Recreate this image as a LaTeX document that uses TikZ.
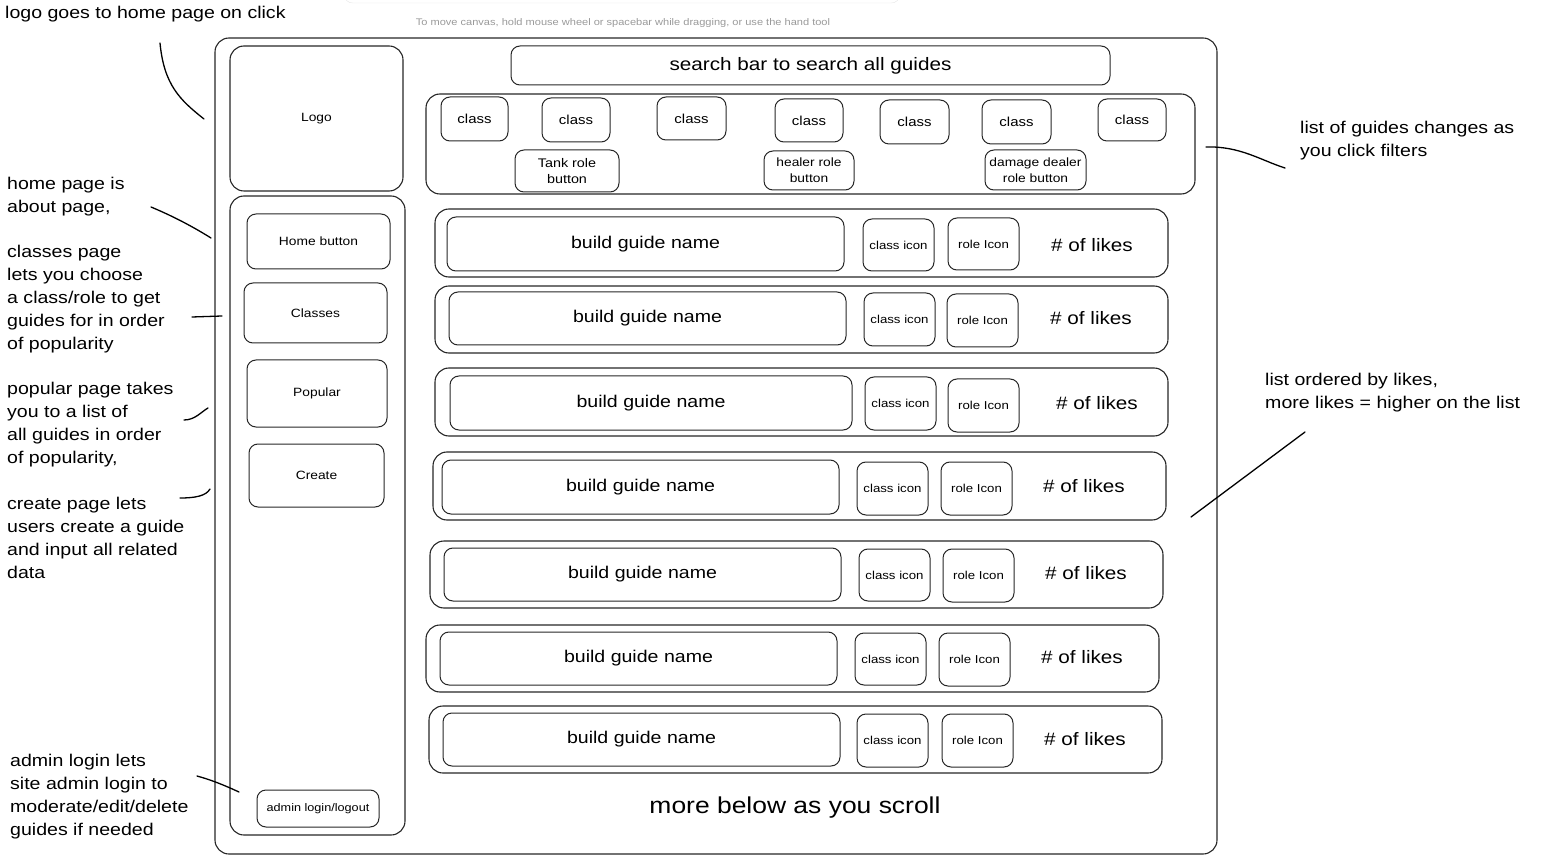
\documentclass[tikz,border=0pt]{standalone}
\usepackage{fontspec}
\setmainfont{Liberation Sans}[FakeStretch=1.15]
\usetikzlibrary{positioning}

\begin{document}
\begin{tikzpicture}[x=1pt,y=-1pt,
            panel/.style={draw=black!85, line width=1.1pt, rounded corners=14pt, inner sep=0pt},
            btn/.style={draw=black!85, line width=1pt, rounded corners=9pt, inner sep=0pt, align=center},
            note/.style={anchor=north west, align=left, inner sep=0pt, font=\fontsize{17}{23}\selectfont},
            lead/.style={line width=1.3pt, line cap=round}]

            \useasboundingbox (0,0) rectangle (1547,858);

            \node [draw=black!10, fill=white, rounded corners=8pt, minimum width=555pt, minimum height=24pt] (toolbar) at (622,-9) {};
            \node [text=black!40, font=\fontsize{9.6}{11}\selectfont] (hint) at (623,23)
            {To move canvas, hold mouse wheel or spacebar while dragging, or use the hand tool};

            % page frame
            \node [panel, minimum width=1002pt, minimum height=816pt] (frame) at (716,446) {};

            % left column
            \node [panel, minimum width=173pt, minimum height=145pt, font=\fontsize{12}{14}\selectfont] (logo) at (316.5,118.5) {Logo};
            \node [panel, minimum width=175pt, minimum height=639pt] (nav) at (317.5,515.5) {};
            \node [btn, minimum width=143pt, minimum height=55pt, font=\fontsize{12}{14}\selectfont] (home) at (318.5,241.5) {Home button};
            \node [btn, minimum width=143pt, minimum height=60pt, font=\fontsize{12}{14}\selectfont] (classes) at (315.5,313) {Classes};
            \node [btn, minimum width=140pt, minimum height=67pt, font=\fontsize{12}{14}\selectfont] (popular) at (317,393.5) {Popular};
            \node [btn, minimum width=135pt, minimum height=63pt, font=\fontsize{12}{14}\selectfont] (create) at (316.5,475.5) {Create};
            \node [btn, minimum width=122pt, minimum height=37pt, font=\fontsize{11}{13}\selectfont] (admin) at (318,808.5) {admin login/logout};

            % search and filters
            \node [btn, minimum width=599pt, minimum height=39pt, font=\fontsize{18}{20}\selectfont] (search) at (810.5,65.5) {search bar to search all guides};
            \node [panel, minimum width=769pt, minimum height=100pt] (filters) at (810.5,144) {};
            \node [btn, minimum width=67pt, minimum height=44pt, font=\fontsize{13}{15}\selectfont] (c1) at (474.5,119) {class};
            \node [btn, minimum width=68pt, minimum height=44pt, font=\fontsize{13}{15}\selectfont] (c2) at (576,120) {class};
            \node [btn, minimum width=69pt, minimum height=43pt, font=\fontsize{13}{15}\selectfont] (c3) at (691.5,118.5) {class};
            \node [btn, minimum width=68pt, minimum height=43pt, font=\fontsize{13}{15}\selectfont] (c4) at (809,120.5) {class};
            \node [btn, minimum width=69pt, minimum height=44pt, font=\fontsize{13}{15}\selectfont] (c5) at (914.5,122) {class};
            \node [btn, minimum width=69pt, minimum height=44pt, font=\fontsize{13}{15}\selectfont] (c6) at (1016.5,122) {class};
            \node [btn, minimum width=68pt, minimum height=42pt, font=\fontsize{13}{15}\selectfont] (c7) at (1132,120) {class};
            \node [btn, minimum width=104pt, minimum height=42pt, font=\fontsize{12.5}{16}\selectfont] (tank) at (567,171) {Tank role\\button};
            \node [btn, minimum width=90pt, minimum height=39pt, font=\fontsize{12}{16}\selectfont] (healer) at (809,170.5) {healer role\\button};
            \node [btn, minimum width=101pt, minimum height=40pt, font=\fontsize{12}{16}\selectfont] (dps) at (1035.5,170) {damage dealer\\role button};

            % guide list
            \node [panel, minimum width=733pt, minimum height=68pt] (row1) at (801.5,243) {};
            \node [btn, minimum width=397pt, minimum height=54pt, font=\fontsize{17}{19}\selectfont] (name1) at (645.5,244) {build guide name};
            \node [btn, minimum width=71pt, minimum height=52pt, font=\fontsize{11.5}{14}\selectfont] (ci1) at (898.5,245) {class icon};
            \node [btn, minimum width=71pt, minimum height=52pt, font=\fontsize{11.5}{14}\selectfont] (ri1) at (983.5,244) {role Icon};
            \node [font=\fontsize{18}{20}\selectfont] (likes1) at (1092,245) {\# of likes};

            \node [panel, minimum width=733pt, minimum height=67pt] (row2) at (801.5,319.5) {};
            \node [btn, minimum width=397pt, minimum height=53pt, font=\fontsize{17}{19}\selectfont] (name2) at (647.5,318.5) {build guide name};
            \node [btn, minimum width=71pt, minimum height=53pt, font=\fontsize{11.5}{14}\selectfont] (ci2) at (899.5,319.5) {class icon};
            \node [btn, minimum width=71pt, minimum height=53pt, font=\fontsize{11.5}{14}\selectfont] (ri2) at (982.5,320.5) {role Icon};
            \node [font=\fontsize{18}{20}\selectfont] (likes2) at (1091,318) {\# of likes};

            \node [panel, minimum width=733pt, minimum height=68pt] (row3) at (801.5,402) {};
            \node [btn, minimum width=402pt, minimum height=54pt, font=\fontsize{17}{19}\selectfont] (name3) at (651,403) {build guide name};
            \node [btn, minimum width=71pt, minimum height=53pt, font=\fontsize{11.5}{14}\selectfont] (ci3) at (900.5,403.5) {class icon};
            \node [btn, minimum width=71pt, minimum height=53pt, font=\fontsize{11.5}{14}\selectfont] (ri3) at (983.5,405.5) {role Icon};
            \node [font=\fontsize{18}{20}\selectfont] (likes3) at (1097,403) {\# of likes};

            \node [panel, minimum width=733pt, minimum height=68pt] (row4) at (799.5,486) {};
            \node [btn, minimum width=397pt, minimum height=54pt, font=\fontsize{17}{19}\selectfont] (name4) at (640.5,487) {build guide name};
            \node [btn, minimum width=71pt, minimum height=53pt, font=\fontsize{11.5}{14}\selectfont] (ci4) at (892.5,488.5) {class icon};
            \node [btn, minimum width=71pt, minimum height=53pt, font=\fontsize{11.5}{14}\selectfont] (ri4) at (976.5,488.5) {role Icon};
            \node [font=\fontsize{18}{20}\selectfont] (likes4) at (1084,486) {\# of likes};

            \node [panel, minimum width=733pt, minimum height=67pt] (row5) at (796.5,574.5) {};
            \node [btn, minimum width=397pt, minimum height=53pt, font=\fontsize{17}{19}\selectfont] (name5) at (642.5,574.5) {build guide name};
            \node [btn, minimum width=71pt, minimum height=52pt, font=\fontsize{11.5}{14}\selectfont] (ci5) at (894.5,575) {class icon};
            \node [btn, minimum width=71pt, minimum height=53pt, font=\fontsize{11.5}{14}\selectfont] (ri5) at (978.5,575.5) {role Icon};
            \node [font=\fontsize{18}{20}\selectfont] (likes5) at (1086,573) {\# of likes};

            \node [panel, minimum width=733pt, minimum height=67pt] (row6) at (792.5,658.5) {};
            \node [btn, minimum width=397pt, minimum height=53pt, font=\fontsize{17}{19}\selectfont] (name6) at (638.5,658.5) {build guide name};
            \node [btn, minimum width=71pt, minimum height=52pt, font=\fontsize{11.5}{14}\selectfont] (ci6) at (890.5,659) {class icon};
            \node [btn, minimum width=71pt, minimum height=53pt, font=\fontsize{11.5}{14}\selectfont] (ri6) at (974.5,659.5) {role Icon};
            \node [font=\fontsize{18}{20}\selectfont] (likes6) at (1082,657) {\# of likes};

            \node [panel, minimum width=733pt, minimum height=67pt] (row7) at (795.5,739.5) {};
            \node [btn, minimum width=397pt, minimum height=53pt, font=\fontsize{17}{19}\selectfont] (name7) at (641.5,739.5) {build guide name};
            \node [btn, minimum width=71pt, minimum height=53pt, font=\fontsize{11.5}{14}\selectfont] (ci7) at (892.5,740.5) {class icon};
            \node [btn, minimum width=71pt, minimum height=53pt, font=\fontsize{11.5}{14}\selectfont] (ri7) at (977.5,740.5) {role Icon};
            \node [font=\fontsize{18}{20}\selectfont] (likes7) at (1085,739) {\# of likes};

            \node [font=\fontsize{23}{26}\selectfont] (more) at (795,808) {more below as you scroll};

            % notes
            \node [note] (nlogo) at (5,6) {logo goes to home page on click};
            \node [note] (nhome) at (7,177) {home page is\\about page,};
            \node [note] (nclasses) at (7,245) {classes page\\lets you choose\\a class/role to get\\guides for in order\\of popularity};
            \node [note] (npopular) at (7,382) {popular page takes\\you to a list of\\all guides in order\\of popularity,};
            \node [note] (ncreate) at (7,497) {create page lets\\users create a guide\\and input all related\\data};
            \node [note] (nadmin) at (10,754) {admin login lets\\site admin login to\\moderate/edit/delete\\guides if needed};
            \node [note] (nfilters) at (1300,121) {list of guides changes as\\you click filters};
            \node [note] (norder) at (1265,373) {list ordered by likes,\\more likes = higher on the list};

            % leader lines
            \coordinate (l1a) at (160,43);   \coordinate (l1b) at (204,119);
            \coordinate (l2a) at (151,207);  \coordinate (l2b) at (211,238);
            \coordinate (l3a) at (192,317);  \coordinate (l3b) at (222,316);
            \coordinate (l4a) at (184,420);  \coordinate (l4b) at (208,408);
            \coordinate (l5a) at (180,498);  \coordinate (l5b) at (210,489);
            \coordinate (l6a) at (197,776);  \coordinate (l6b) at (239,792);
            \coordinate (l7a) at (1206,147); \coordinate (l7b) at (1285,168);
            \coordinate (l8a) at (1305,432); \coordinate (l8b) at (1191,517);
            \draw [lead] (l1a) .. controls (164,85) and (180,100) .. (l1b);
            \draw [lead] (l2a) .. controls (175,217) and (195,228) .. (l2b);
            \draw [lead] (l3a) -- (l3b);
            \draw [lead] (l4a) .. controls (195,420) and (201,412) .. (l4b);
            \draw [lead] (l5a) .. controls (195,498) and (206,496) .. (l5b);
            \draw [lead] (l6a) .. controls (215,781) and (228,787) .. (l6b);
            \draw [lead] (l7a) .. controls (1240,146) and (1260,160) .. (l7b);
            \draw [lead] (l8a) -- (l8b);

        \end{tikzpicture}
\end{document}
